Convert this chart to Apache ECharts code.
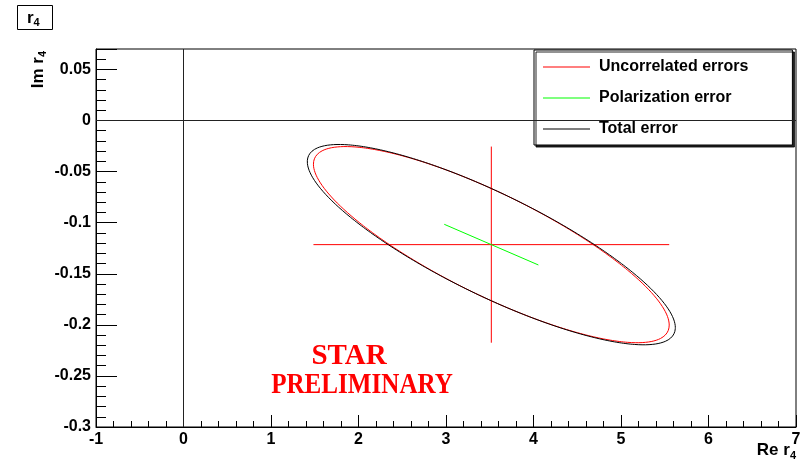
<!DOCTYPE html>
<html>
<head>
<meta charset="utf-8">
<script src="https://cdn.jsdelivr.net/npm/echarts@6/dist/echarts.min.js"></script>
<style>
  html, body { margin: 0; padding: 0; background: #fff; }
  #chart { width: 804px; height: 468px; }
</style>
</head>
<body>
<div id="chart"></div>
<script>
// Central value of r4 (Re, Im)
const centralValue = [3.518, -0.1215];
// Uncorrelated errors: one-sigma on Re and Im, and their correlation
const uncorrSigma = [2.033, 0.096];
const uncorrRho = -0.82;
// Polarization error: fully correlated shift along (Re, Im)
const polShift = [0.538, -0.0199];

// Axis ranges and tick steps
const xRange = [-1, 7];
const yRange = [-0.3, 0.07];
const xStep = 1;
const yStep = 0.05;

// Series / legend names
const seriesNames = ['Uncorrelated errors', 'Polarization error', 'Total error'];

// Total error: uncorrelated covariance plus the fully correlated polarization part
const varX = uncorrSigma[0] ** 2 + polShift[0] ** 2;
const varY = uncorrSigma[1] ** 2 + polShift[1] ** 2;
const covXY = uncorrRho * uncorrSigma[0] * uncorrSigma[1] + polShift[0] * polShift[1];
const totalSigma = [Math.sqrt(varX), Math.sqrt(varY)];
const totalRho = covXY / (totalSigma[0] * totalSigma[1]);

// One-sigma contour of a correlated 2D error
function errorEllipse(c, s, rho, n) {
  const pts = [];
  const k = Math.sqrt(1 - rho * rho);
  for (let i = 0; i <= n; i++) {
    const t = 2 * Math.PI * i / n;
    pts.push([c[0] + s[0] * Math.cos(t), c[1] + s[1] * (rho * Math.cos(t) + k * Math.sin(t))]);
  }
  return pts;
}

const cx = centralValue[0], cy = centralValue[1];
const labelFont = { fontFamily: 'Liberation Sans, Arial, sans-serif', fontWeight: 'bold', color: '#000' };
const stampFont = 'bold 29px "Liberation Serif", "Times New Roman", serif';

const chart = echarts.init(document.getElementById('chart'), null, { renderer: 'canvas' });
chart.setOption({
  animation: false,
  backgroundColor: '#fff',
  grid: { left: 96, right: 8, top: 49, bottom: 41, show: true, borderColor: '#000', borderWidth: 1, backgroundColor: 'transparent' },
  xAxis: {
    type: 'value', min: xRange[0], max: xRange[1], interval: xStep,
    axisLine: { show: true, onZero: false, lineStyle: { color: '#000', width: 1 } },
    axisTick: { show: true, inside: true, length: 12, lineStyle: { color: '#000' } },
    minorTick: { show: true, splitNumber: 5, length: 6, lineStyle: { color: '#000' } },
    splitLine: { show: false },
    axisLabel: Object.assign({ fontSize: 16, margin: 5 }, labelFont)
  },
  yAxis: {
    type: 'value', min: yRange[0], max: yRange[1], interval: yStep,
    axisLine: { show: true, onZero: false, lineStyle: { color: '#000', width: 1 } },
    axisTick: { show: true, inside: true, length: 21, lineStyle: { color: '#000' } },
    minorTick: { show: true, splitNumber: 5, length: 10, lineStyle: { color: '#000' } },
    splitLine: { show: false },
    axisLabel: Object.assign({
      fontSize: 16, margin: 5, showMaxLabel: false,
      formatter: v => { const r = +(+v).toFixed(2); return r === 0 ? '0' : String(r); }
    }, labelFont)
  },
  legend: {
    data: seriesNames,
    orient: 'vertical', left: 534, top: 50,
    icon: 'rect', itemWidth: 47, itemHeight: 1, itemGap: 15,
    padding: [9, 44, 8, 9],
    backgroundColor: '#fff', borderColor: '#000', borderWidth: 1,
    shadowColor: 'rgba(0,0,0,0.85)', shadowBlur: 0, shadowOffsetX: 2, shadowOffsetY: 2,
    textStyle: Object.assign({ fontSize: 16, padding: [0, 0, 0, 4] }, labelFont)
  },
  graphic: [
    { type: 'rect', shape: { x: 17.5, y: 5.5, width: 35, height: 24 }, style: { fill: '#fff', stroke: '#000', lineWidth: 1 } },
    { type: 'text', x: 27, y: 18, style: {
        text: '{a|r}{b|4}', verticalAlign: 'middle',
        rich: { a: Object.assign({ fontSize: 17 }, labelFont), b: Object.assign({ fontSize: 11, padding: [9, 0, 0, 0] }, labelFont) }
    } },
    { type: 'text', x: 38, y: 51, rotation: Math.PI / 2, style: {
        text: '{a|Im r}{b|4}', align: 'right', verticalAlign: 'middle',
        rich: { a: Object.assign({ fontSize: 17 }, labelFont), b: Object.assign({ fontSize: 11, padding: [10, 0, 0, 0] }, labelFont) }
    } },
    { type: 'text', x: 796, y: 450, style: {
        text: '{a|Re r}{b|4}', align: 'right', verticalAlign: 'middle',
        rich: { a: Object.assign({ fontSize: 17 }, labelFont), b: Object.assign({ fontSize: 11, padding: [11, 0, 0, 0] }, labelFont) }
    } },
    { type: 'text', x: 349, y: 357, style: {
        text: 'STAR', align: 'center', verticalAlign: 'middle', font: stampFont, fill: '#ff0000'
    } },
    { type: 'text', x: 362, y: 386, scaleX: 0.865, style: {
        text: 'PRELIMINARY', align: 'center', verticalAlign: 'middle', font: stampFont, fill: '#ff0000'
    } }
  ],
  series: [
    {
      // zero lines of the complex plane
      type: 'line', name: 'zero', data: [], silent: true,
      markLine: {
        silent: true, symbol: ['none', 'none'], label: { show: false },
        lineStyle: { color: '#222', type: 'solid', width: 1 },
        data: [{ xAxis: 0 }, { yAxis: 0 }]
      }
    },
    {
      type: 'line', name: seriesNames[0], data: errorEllipse(centralValue, uncorrSigma, uncorrRho, 360),
      showSymbol: false, symbol: 'none', lineStyle: { color: '#ff0000', width: 1 }, itemStyle: { color: '#ff0000' }
    },
    {
      type: 'line', name: seriesNames[0], data: [[cx - uncorrSigma[0], cy], [cx + uncorrSigma[0], cy]],
      showSymbol: false, symbol: 'none', lineStyle: { color: '#ff0000', width: 1 }, itemStyle: { color: '#ff0000' }
    },
    {
      type: 'line', name: seriesNames[0], data: [[cx, cy - uncorrSigma[1]], [cx, cy + uncorrSigma[1]]],
      showSymbol: false, symbol: 'none', lineStyle: { color: '#ff0000', width: 1 }, itemStyle: { color: '#ff0000' }
    },
    {
      type: 'line', name: seriesNames[1], data: [[cx - polShift[0], cy - polShift[1]], [cx + polShift[0], cy + polShift[1]]],
      showSymbol: false, symbol: 'none', lineStyle: { color: '#00ff00', width: 1 }, itemStyle: { color: '#00ff00' }
    },
    {
      type: 'line', name: seriesNames[2], data: errorEllipse(centralValue, totalSigma, totalRho, 360),
      showSymbol: false, symbol: 'none', lineStyle: { color: '#000', width: 1 }, itemStyle: { color: '#000' }
    }
  ]
});
</script>
</body>
</html>
